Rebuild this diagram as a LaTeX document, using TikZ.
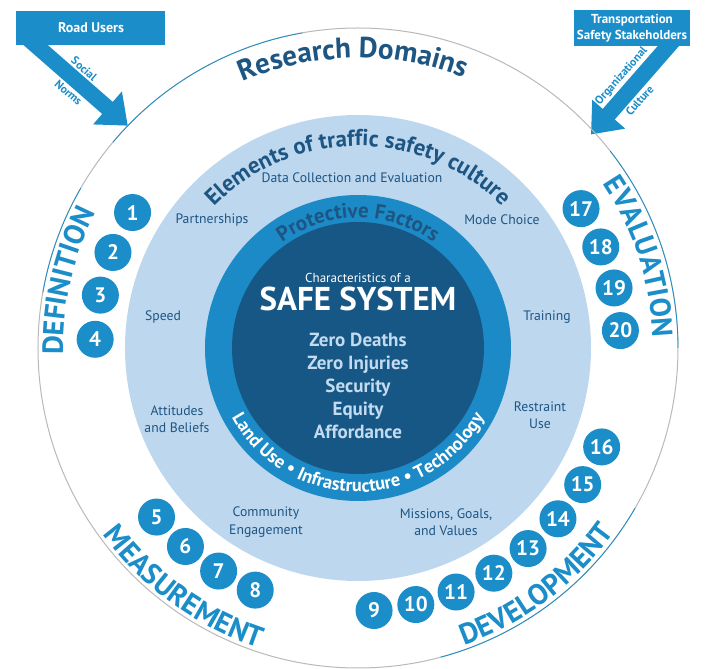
\documentclass[tikz,border=0pt]{standalone}
\usepackage{fontspec}
\setmainfont{PT Sans}
\usetikzlibrary{arrows.meta,decorations.text,backgrounds,positioning}
\definecolor{cblue}{HTML}{1B8DC8}
\definecolor{clight}{HTML}{BDD7EE}
\definecolor{cring}{HTML}{1C8AC6}
\definecolor{cdark}{HTML}{175785}
\definecolor{cnavy}{HTML}{1D5583}
\definecolor{cpale}{HTML}{C3DBF0}

\begin{document}
\begin{tikzpicture}[
    x=1pt, y=1pt,
    item/.style={text=cnavy, font=\fontsize{13.7}{17.5}\selectfont, align=center},
    num/.style={circle, fill=cblue, text=white, minimum size=37pt, inner sep=0pt, font=\fontsize{21}{21}\selectfont\bfseries},
    box/.style={fill=cblue, text=white, align=center, inner xsep=3pt, inner ysep=2pt, font=\fontsize{13}{16}\selectfont\bfseries},
    flow/.style={cblue, line width=16pt, -{Triangle[width=42pt,length=27pt]}},
    flowlabel/.style={text=cblue, font=\fontsize{11.5}{11.5}\selectfont\bfseries, sloped, inner sep=0pt}
]
\useasboundingbox (-358,-321) rectangle (347,348);

\draw[gray!55, line width=1pt] (0,0) circle[radius=320pt];
\draw[cblue, line width=0.8pt] (140:320pt) arc[start angle=140, end angle=100, radius=320pt];
\draw[cblue, line width=0.8pt] (170:320pt) arc[start angle=170, end angle=150, radius=320pt];
\draw[cblue, line width=0.8pt] (38:320pt) arc[start angle=38, end angle=0, radius=320pt];
\draw[cblue, line width=0.8pt] (285:320pt) arc[start angle=285, end angle=330, radius=320pt];

\fill[clight] (0,0) circle[radius=233pt];
\fill[cring] (0,0) circle[radius=153pt];
\fill[cdark] (0,0) circle[radius=126pt];

\path[decorate, decoration={text along path, text align=center, text color=cnavy,
    text={|\fontsize{29}{29}\selectfont\bfseries|Research Domains}}]
    (151:290pt) arc[start angle=151, end angle=31, radius=290pt];
\path[decorate, decoration={text along path, text align=center, text color=cnavy,
    text={|\fontsize{23}{23}\selectfont\bfseries|Elements of traffic safety culture}}]
    (150:202pt) arc[start angle=150, end angle=30, radius=202pt];
\path[decorate, decoration={text along path, text align=center, text color=cnavy,
    text={|\fontsize{21}{21}\selectfont\bfseries|Protective Factors}}]
    (150:130pt) arc[start angle=150, end angle=30, radius=130pt];
\path[decorate, decoration={text along path, text align=center, text color=white,
    text={|\fontsize{18.5}{18.5}\selectfont\bfseries|Land Use {\textbullet} Infrastructure {\textbullet} Technology}}]
    (190:144pt) arc[start angle=190, end angle=350, radius=144pt];

\path[decorate, decoration={text along path, text align=center, text color=cblue,
    text={|\fontsize{29}{29}\selectfont\bfseries|DEFINITION}}]
    (207:295pt) arc[start angle=207, end angle=127, radius=295pt];
\path[decorate, decoration={text along path, text align=center, text color=cblue,
    text={|\fontsize{29}{29}\selectfont\bfseries|EVALUATION}}]
    (58:295pt) arc[start angle=58, end angle=-22, radius=295pt];
\path[decorate, decoration={text along path, text align=center, text color=cblue,
    text={|\fontsize{29}{29}\selectfont\bfseries|MEASUREMENT}}]
    (194:316pt) arc[start angle=194, end angle=274, radius=316pt];
\path[decorate, decoration={text along path, text align=center, text color=cblue,
    text={|\fontsize{29}{29}\selectfont\bfseries|DEVELOPMENT}}]
    (267:316pt) arc[start angle=267, end angle=347, radius=316pt];

\node[item] (datacoll) at (-6,170) {Data Collection and Evaluation};
\node[item] (partner) at (-146,128) {Partnerships};
\node[item] (modechoice) at (144,128) {Mode Choice};
\node[item] (speed) at (-195,31) {Speed};
\node[item] (training) at (189,31) {Training};
\node[item] (attitudes) at (-181,-71) {Attitudes\\and Beliefs};
\node[item] (restraint) at (182,-67) {Restraint\\Use};
\node[item] (community) at (-92,-174) {Community\\Engagement};
\node[item] (missions) at (88,-174) {Missions, Goals,\\and Values};

\node[text=white, font=\fontsize{13}{14}\selectfont] (charof) at (0,70) {Characteristics of a};
\node[text=white, font=\fontsize{33}{34}\selectfont\bfseries] (safesys) at (0,49) {SAFE SYSTEM};
\node[text=cpale, align=center, font=\fontsize{19}{23}\selectfont\bfseries] (traits) at (0,-38)
    {Zero Deaths\\Zero Injuries\\Security\\Equity\\Affordance};

\foreach \n/\a in {1/149,2/158.7,3/168.4,4/178.1,5/220,6/229,7/238,8/247,
    9/273.5,10/282.7,11/291.9,12/301.1,13/310.3,14/319.5,15/328.7,16/337.9,
    17/32,18/22.6,19/13.2,20/3.8}
    \node[num] (n\n) at (\a:263pt) {\n};

\node[box, minimum width=149pt, minimum height=34pt, font=\fontsize{14}{16}\selectfont\bfseries] (roadbox) at (-267,320) {Road Users};
\node[box, minimum height=36pt] (stakebox) at (274,320) {Transportation\\Safety Stakeholders};
\coordinate (roadtip) at (136:320pt);
\coordinate (staketip) at (42.5:316pt);

\begin{scope}[on background layer]
\fill[white] (-358,-321) rectangle (347,348);
\draw[flow] ([xshift=11.5pt,yshift=7pt]roadbox.south west) --
    node[flowlabel, pos=0.47, above=2pt] (social) {Social}
    node[flowlabel, pos=0.5, below=2pt] (norms) {Norms} (roadtip);
\draw[flow] ([xshift=-15pt,yshift=8pt]stakebox.south east) --
    node[flowlabel, pos=0.5, above=2pt] (orgcult) {Organizational}
    node[flowlabel, pos=0.55, below=2pt] (culture) {Culture} (staketip);
\end{scope}

\end{tikzpicture}
\end{document}
